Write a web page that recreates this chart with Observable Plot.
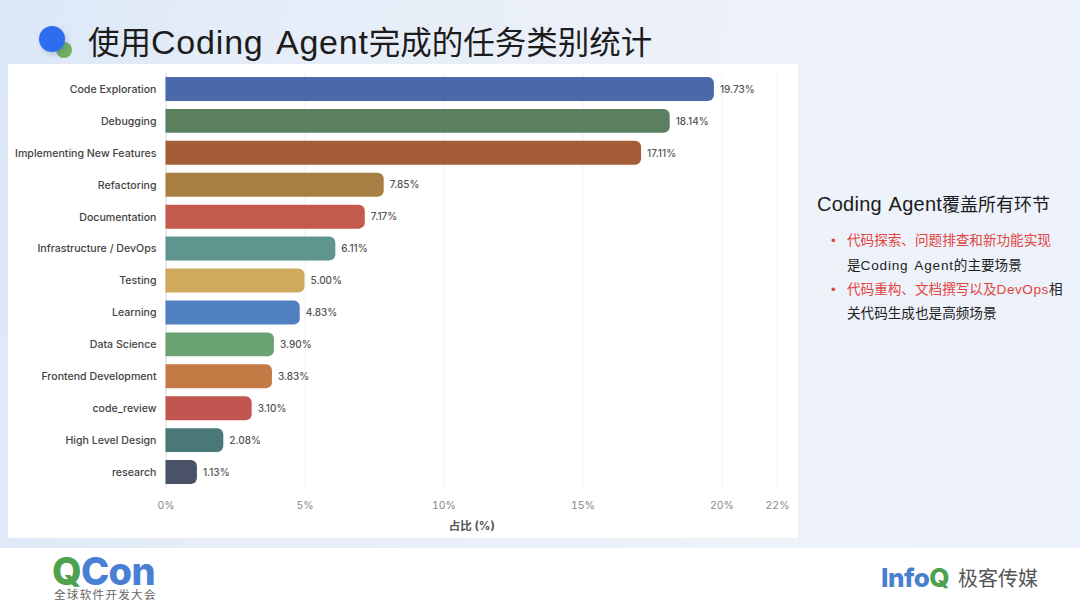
<!DOCTYPE html>
<html><head><meta charset="utf-8">
<script src="https://cdn.jsdelivr.net/npm/d3@7"></script>
<script src="https://cdn.jsdelivr.net/npm/@observablehq/plot@0.6"></script>
<style>
html,body{margin:0;padding:0;width:1080px;height:608px;overflow:hidden;background:#fff}
body{position:relative;font-family:"Liberation Sans","Noto Sans CJK SC",sans-serif}
.a{position:absolute;white-space:nowrap;line-height:1}
#slide{position:absolute;left:0;top:0;width:1080px;height:548px;background:linear-gradient(100deg,#dbe8f7 0%,#e6edf8 25%,#eef2f9 70%,#edf1fb 100%)}
#card{position:absolute;left:8px;top:64px;width:790px;height:474px;background:#fff}
#card svg{display:block}
.r{color:#e2453f}
.l{letter-spacing:.55px;word-spacing:2px}
.ib{display:inline-block;height:30px;line-height:30px;vertical-align:top}
</style></head><body>
<div id="slide"></div>
<div class="a" style="left:56px;top:42px;width:16px;height:16px;border-radius:50%;background:#6fb05f"></div>
<div class="a" style="left:39px;top:26px;width:26px;height:26px;border-radius:50%;background:#2f6df0;box-shadow:2px 3px 5px rgba(60,90,160,.25)"></div>
<div class="a" id="title" style="left:88px;top:25px;font-size:31.5px;color:#1c1c1c">使用<span style="font-size:34px;letter-spacing:.8px;word-spacing:4px">Coding Agent</span>完成的任务类别统计</div>
<div id="card"></div>
<div class="a" style="left:817px;top:194px;font-size:18px;color:#1c1c1c"><span style="font-size:20px;letter-spacing:.25px;word-spacing:2px">Coding Agent</span>覆盖所有环节</div>
<div class="a r" style="left:831px;top:234px;font-size:13.6px">•</div>
<div class="a r" style="left:847px;top:234px;font-size:13.6px">代码探索、问题排查和新功能实现</div>
<div class="a" style="left:847px;top:259px;font-size:13.6px;color:#222">是<span class="l" style="letter-spacing:.8px">Coding Agent</span>的主要场景</div>
<div class="a r" style="left:831px;top:283px;font-size:13.6px">•</div>
<div class="a" style="left:847px;top:283px;font-size:13.6px;color:#222"><span class="r">代码重构、文档撰写以及<span class="l">DevOps</span></span>相</div>
<div class="a" style="left:847px;top:307px;font-size:13.6px;color:#222">关代码生成也是高频场景</div>
<div class="a" style="left:52px;top:556px;height:30px;font-size:38px;line-height:30px;font-weight:800;font-family:Inter,sans-serif;letter-spacing:-.7px"><span class="ib" style="color:#4ea24e">Q</span><span class="ib" style="color:#4a7fd6">Con</span></div>
<div class="a" style="left:54px;top:590px;font-size:11.5px;letter-spacing:1.35px;color:#666">全球软件开发大会</div>
<div class="a" style="left:881px;top:565px;font-size:26px;font-weight:800;font-family:Inter,sans-serif;letter-spacing:-.5px"><span style="color:#4a7fd0">Info</span><span style="color:#4ea24e">Q</span></div>
<div class="a" style="left:958px;top:569px;font-size:20px;color:#555">极客传媒</div>
<script>
const categories = ["Code Exploration","Debugging","Implementing New Features","Refactoring","Documentation","Infrastructure / DevOps","Testing","Learning","Data Science","Frontend Development","code_review","High Level Design","research"];
const shares = [19.73,18.14,17.11,7.85,7.17,6.11,5.00,4.83,3.90,3.83,3.10,2.08,1.13];
const barColors = ["#4a69a8","#5a8060","#a55d38","#a87f42","#c25a4e","#5f958f","#cfa95c","#5080c0","#6aa274","#c47a45","#c25550","#4a7878","#4a5268"];
const xTicks = [0,5,10,15,20,22];
const rows = categories.map((c,i)=>({c,v:shares[i]}));
const font = "Inter,'Liberation Sans','Noto Sans CJK SC',sans-serif";
const chart = Plot.plot({
  width:790,height:474,marginLeft:157.5,marginRight:21,marginTop:9,marginBottom:50,
  style:{fontFamily:font,background:"transparent",overflow:"visible"},
  x:{domain:[0,22],label:null},
  y:{domain:categories,paddingInner:0.25,paddingOuter:0.125,round:false,label:null},
  color:{domain:categories,range:barColors},
  marks:[
    Plot.gridX(xTicks,{x:d=>d,stroke:"#f0f1f4",strokeOpacity:1}),
    Plot.ruleX([0],{stroke:"#dcdfe4"}),
    Plot.ruleY([0],{frameAnchor:"bottom",stroke:"#dcdfe4"}),
    Plot.barX(rows,{x:"v",y:"c",fill:"c",rx2:6}),
    Plot.text(rows,{x:"v",y:"c",text:d=>d.v.toFixed(2)+"%",textAnchor:"start",dx:5.5,fontSize:10,fontWeight:500,fill:"#555"}),
    Plot.axisY({tickSize:0,tickPadding:9.5,fontSize:10.6,fontWeight:500,color:"#444",label:null}),
    Plot.axisX({ticks:xTicks,tickSize:0,tickPadding:13,tickFormat:d=>d+"%",fontSize:10.5,fill:"#888",label:null}),
    Plot.axisX({ticks:[],label:"占比 (%)",labelAnchor:"center",labelArrow:"none",labelOffset:41,fontSize:11.5,fontWeight:700,fill:"#555"})
  ]
});
document.getElementById("card").appendChild(chart);
</script>
</body></html>
